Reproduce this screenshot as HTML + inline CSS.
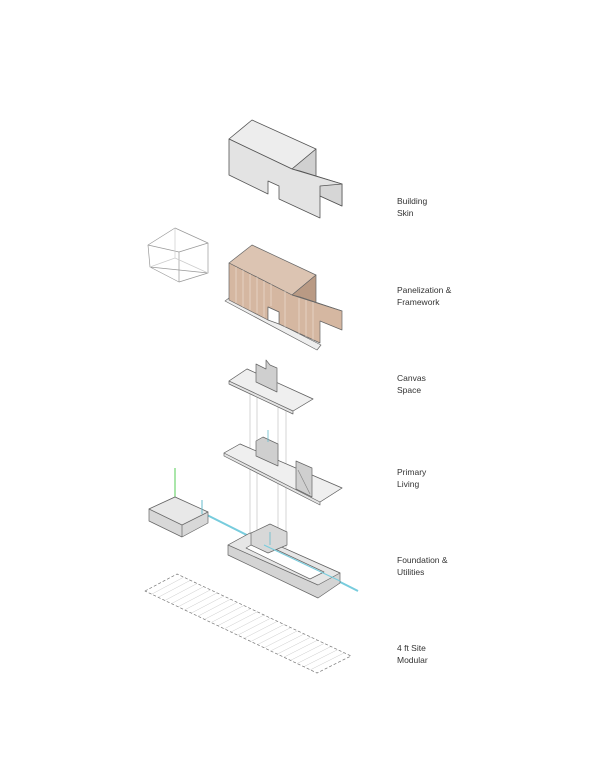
<!DOCTYPE html>
<html><head><style>
html,body{margin:0;padding:0;background:#fff;width:600px;height:772px;overflow:hidden}
.t{position:absolute;left:397px;font-family:"Liberation Sans",sans-serif;font-size:8.5px;line-height:11.5px;color:#333}
</style></head><body>
<svg width="600" height="772" style="position:absolute;left:0;top:0" stroke-linejoin="round">
<!-- Building skin -->
<g stroke="#555" stroke-width="0.8">
<polygon points="229,139 252,120 316,149 292,169" fill="#ededed"/>
<polygon points="292,169 316,149 316,178 342,184 300,171" fill="#d0d0d0"/>
<polygon points="229,139 292,169 342,184 342,206 320,196 320,218 279,199 279,186 268,181 268,194 229,175" fill="#e3e3e3"/>
<polygon points="320,186 342,184 342,206 320,196" fill="#d6d6d6"/>
</g>
<!-- wire cube -->
<g stroke="#999" stroke-width="0.7" fill="none">
<polygon points="148,245 175,228 208,243 179,252"/>
<polygon points="150,267 179,282 208,273"/>
<line x1="148" y1="245" x2="150" y2="267"/><line x1="179" y1="252" x2="179" y2="282"/><line x1="208" y1="243" x2="208" y2="273"/>
<line x1="175" y1="228" x2="175" y2="258" stroke="#ccc"/><line x1="150" y1="267" x2="175" y2="258" stroke="#ccc"/><line x1="208" y1="273" x2="175" y2="258" stroke="#ccc"/>
</g>
<!-- Panelization -->
<g stroke="#666" stroke-width="0.7">
<polygon points="225,301 229,298 321,345 317,350" fill="#eee"/>
<polygon points="229,263 252,245 316,275 292,295" fill="#dcc4b2"/>
<polygon points="292,295 316,275 316,304 342,311 300,297" fill="#b99a84"/>
<polygon points="229,263 292,295 342,311 342,330 320,321 320,343 279,324 279,312 268,307 268,320 229,300" fill="#d5b7a1"/>
<polygon points="268,307 279,312 279,324 268,320" fill="#fff"/>
</g>
<g stroke="#f0e2d8" stroke-width="0.6">
<line x1="236" y1="267" x2="236" y2="303"/><line x1="243" y1="270" x2="243" y2="307"/><line x1="250" y1="274" x2="250" y2="310"/><line x1="257" y1="277" x2="257" y2="313"/><line x1="264" y1="281" x2="264" y2="317"/><line x1="271" y1="284" x2="271" y2="306"/><line x1="285" y1="291" x2="285" y2="327"/><line x1="299" y1="298" x2="299" y2="334"/><line x1="306" y1="300" x2="306" y2="337"/><line x1="313" y1="302" x2="313" y2="340"/>
</g>
<!-- vertical guides -->
<g stroke="#bbb" stroke-width="0.6">
<line x1="250" y1="392" x2="250" y2="540"/><line x1="257" y1="395" x2="257" y2="540"/><line x1="278" y1="400" x2="278" y2="545"/><line x1="286" y1="404" x2="286" y2="548"/>
</g>
<!-- Canvas space -->
<g stroke="#666" stroke-width="0.7">
<polygon points="229,381 247,369 313,399 293,411 293,414 229,384" fill="#e4e4e4"/>
<polygon points="229,381 247,369 313,399 293,411" fill="#efefef"/>
<polygon points="256,364 266,369 266,360 270,365 277,368 277,392 256,382" fill="#cfcfcf"/>
</g>
<!-- Primary living -->
<g stroke="#666" stroke-width="0.7">
<polygon points="224,453 240,444 342,488 320,502 320,505 224,456" fill="#e4e4e4"/>
<polygon points="224,453 240,444 342,488 320,502" fill="#efefef"/>
<polygon points="256,441 263,437 278,444 278,466 256,456" fill="#cfcfcf"/>
<polygon points="296,461 312,468 312,497 296,489" fill="#cfcfcf"/>
<line x1="298" y1="470" x2="310" y2="494" stroke="#888"/>
</g>
<line x1="268" y1="430" x2="268" y2="442" stroke="#6bc" stroke-width="0.8"/>
<!-- utility box -->
<line x1="175" y1="468" x2="175" y2="498" stroke="#5c5" stroke-width="1"/>
<line x1="205" y1="514" x2="358" y2="591" stroke="#7cd" stroke-width="2"/>
<g stroke="#666" stroke-width="0.7">
<polygon points="149,509 175,497 208,512 208,523 182,537 149,521" fill="#d8d8d8"/>
<polygon points="149,509 175,497 208,512 182,525" fill="#e8e8e8"/>
<line x1="182" y1="525" x2="182" y2="537"/>
</g>
<line x1="202" y1="500" x2="202" y2="514" stroke="#6bc" stroke-width="1"/>
<!-- foundation -->
<g stroke="#666" stroke-width="0.7">
<polygon points="228,545 250,533 340,573 340,583 318,598 228,555" fill="#d4d4d4"/>
<polygon points="228,545 250,533 340,573 318,585" fill="#e6e6e6"/>
<polygon points="246,548 258,541 324,572 310,579" fill="#fff"/>
<polygon points="251,533 270,524 287,532 287,545 268,553 251,545" fill="#d8d8d8"/>
</g>
<line x1="264" y1="545" x2="340" y2="581" stroke="#7cd" stroke-width="1"/>
<line x1="270" y1="532" x2="270" y2="545" stroke="#6bc" stroke-width="0.8"/>
<!-- site grid -->
<path stroke="#ccc" stroke-width="0.5" fill="none" d="M151.6,594.2L183.7,577.2M158.2,597.3L190.4,580.3M164.8,600.5L197.1,583.5M171.5,603.6L203.8,586.6M178.1,606.8L210.5,589.8M184.7,609.9L217.2,592.9M191.3,613.1L223.8,596.1M197.9,616.2L230.5,599.2M204.5,619.4L237.2,602.4M211.2,622.5L243.9,605.5M217.8,625.7L250.6,608.7M224.4,628.8L257.3,611.8M231,632L264,615M237.6,635.2L270.7,618.2M244.2,638.3L277.4,621.3M250.8,641.5L284.1,624.5M257.5,644.6L290.8,627.6M264.1,647.8L297.5,630.8M270.7,650.9L304.2,633.9M277.3,654.1L310.8,637.1M283.9,657.2L317.5,640.2M290.5,660.4L324.2,643.4M297.2,663.5L330.9,646.5M303.8,666.7L337.6,649.7M310.4,669.8L344.3,652.8"/>
<polygon points="145,591 177,574 351,656 317,673" fill="none" stroke="#777" stroke-width="0.7" stroke-dasharray="3,2"/>
</svg>
<div class="t" style="top:196px">Building<br>Skin</div>
<div class="t" style="top:285px">Panelization &amp;<br>Framework</div>
<div class="t" style="top:373px">Canvas<br>Space</div>
<div class="t" style="top:467px">Primary<br>Living</div>
<div class="t" style="top:555px">Foundation &amp;<br>Utilities</div>
<div class="t" style="top:643px">4 ft  Site<br>Modular</div>
</body></html>
